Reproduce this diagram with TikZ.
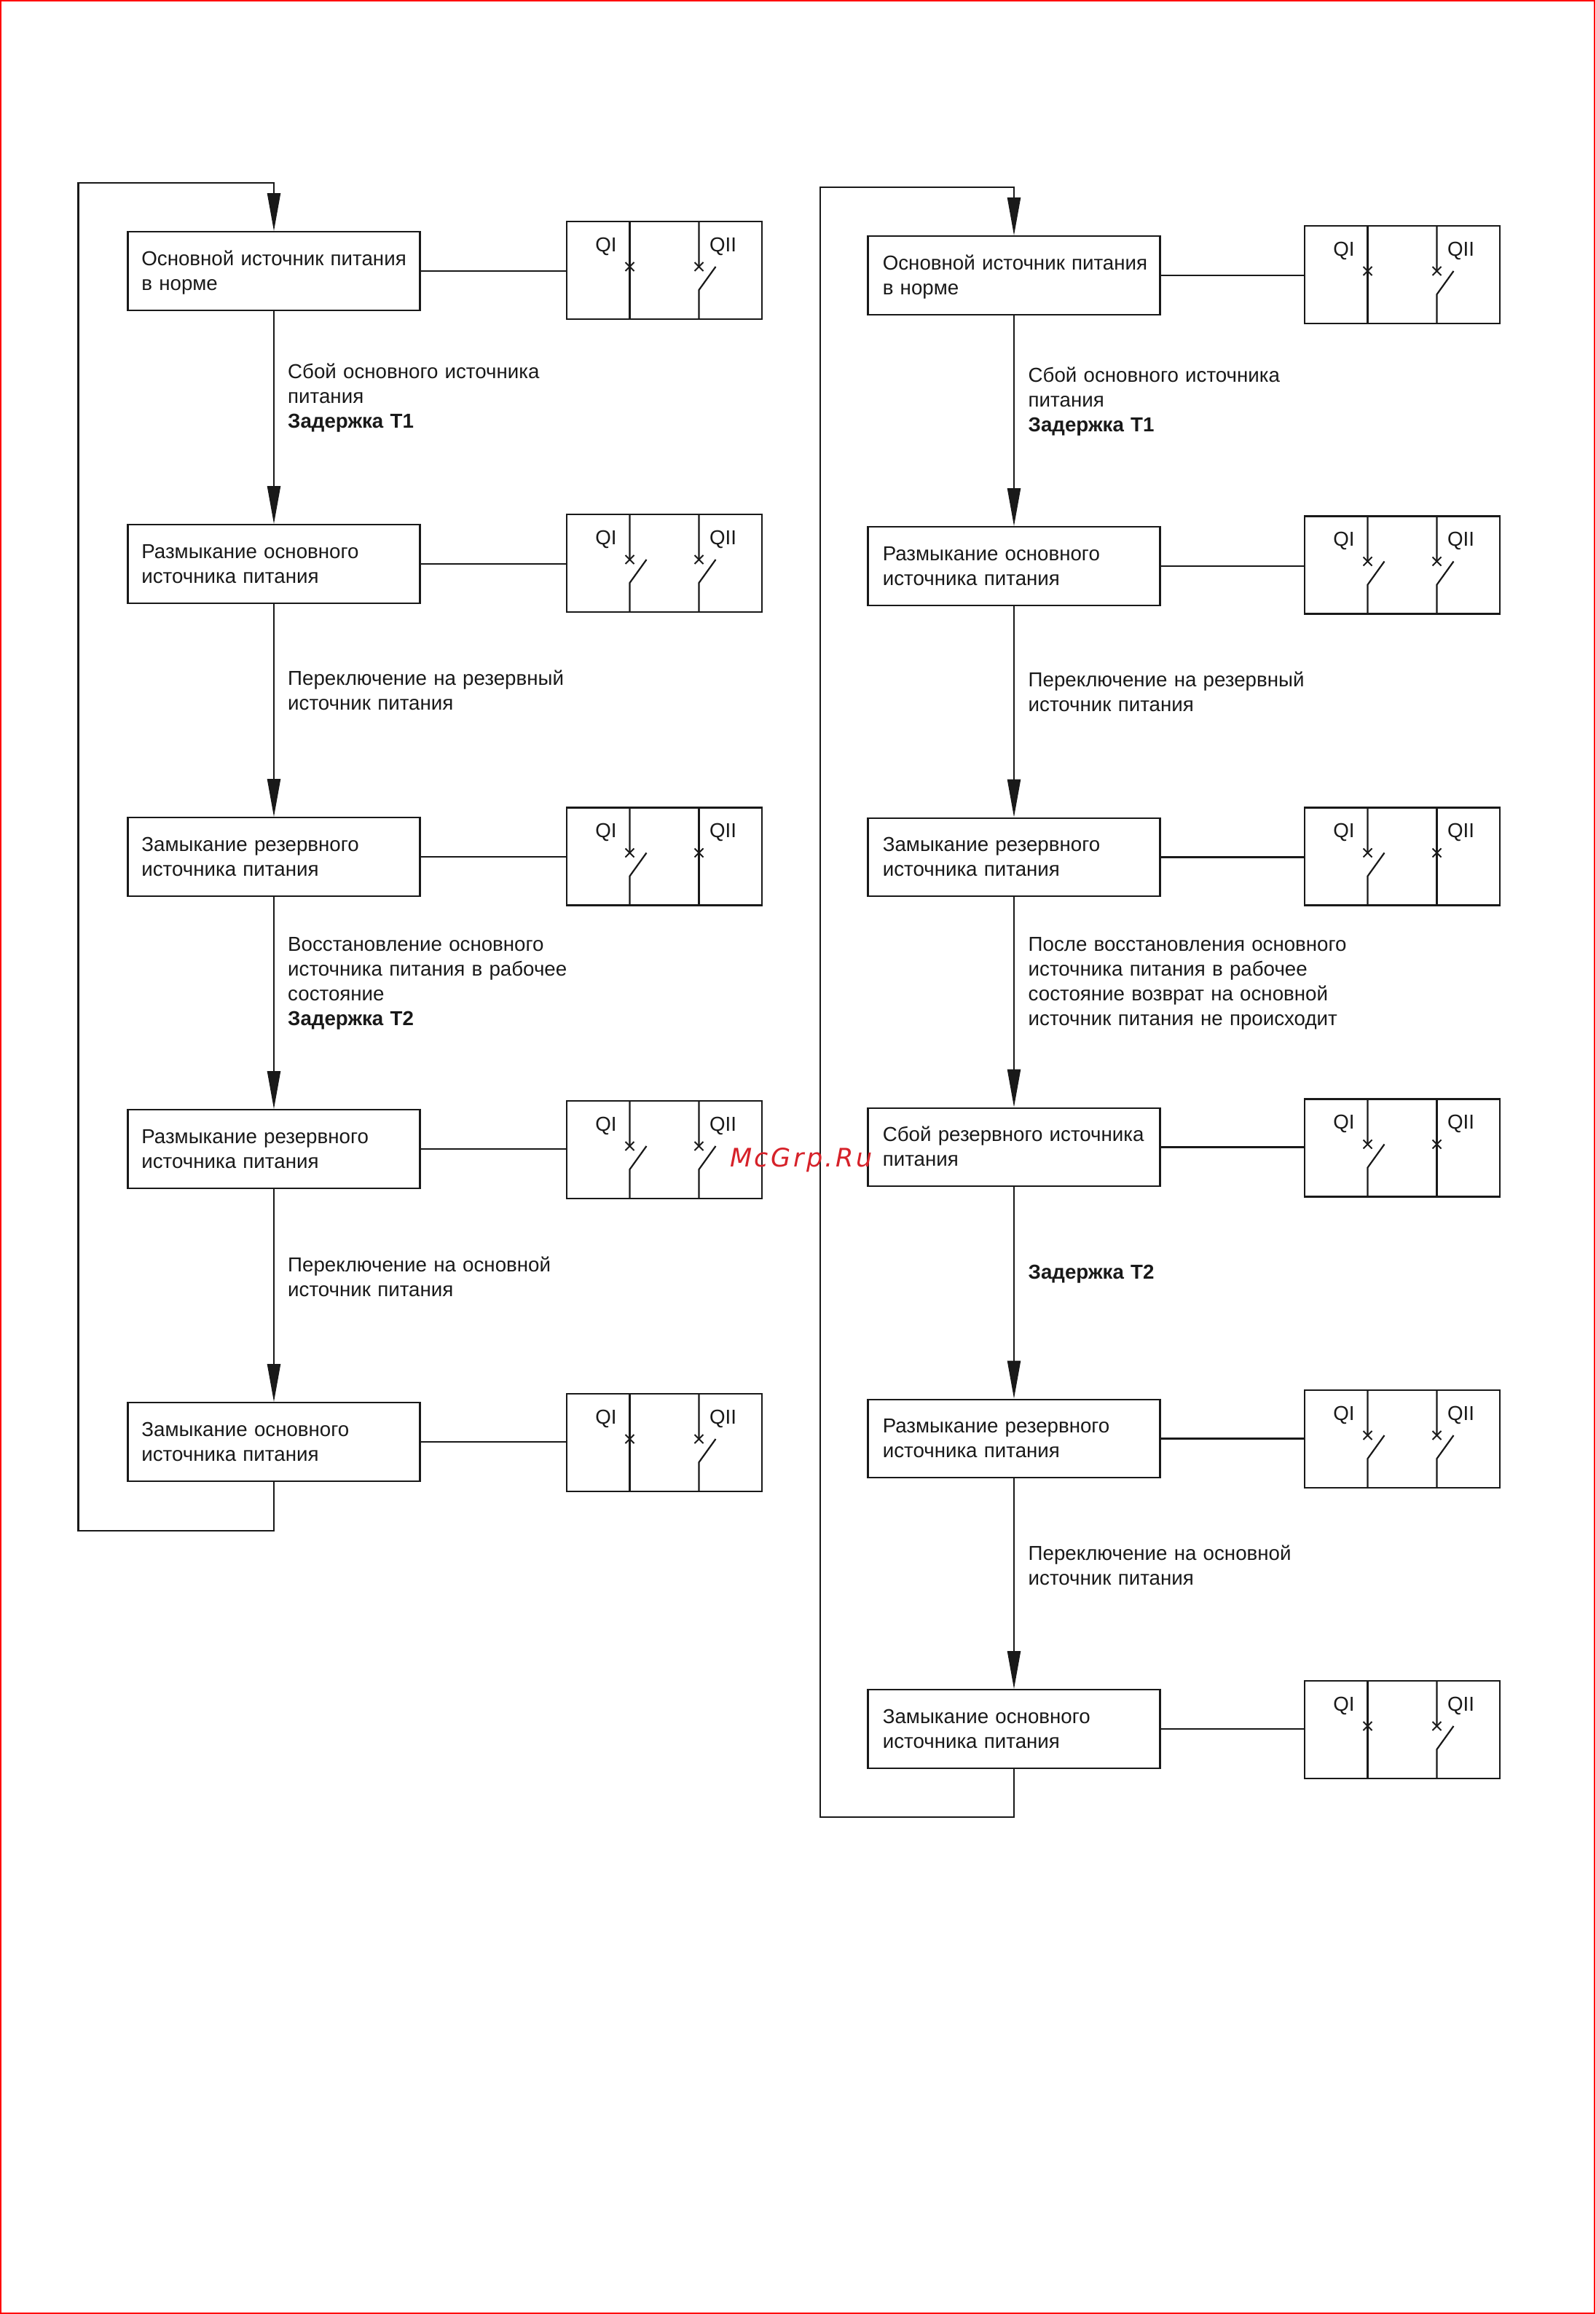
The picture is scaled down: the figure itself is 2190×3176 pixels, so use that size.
\documentclass[tikz,border=0pt]{standalone}
\usepackage{fontspec}
\setmainfont{Liberation Sans}
\newfontfamily\markfont[LetterSpace=10]{DejaVu Sans}
\usetikzlibrary{arrows.meta}

\definecolor{inkline}{gray}{0.1}
\definecolor{markred}{rgb}{0.84,0.13,0.16}
\tikzset{
  closedpole/.pic={
    \draw[inkline, line width=2.2pt] (0,-67) -- (0,67);
    \draw[inkline, line width=2pt] (-6,-11) -- (6,1) (-6,1) -- (6,-11);
  },
  openpole/.pic={
    \draw[inkline, line width=2.2pt] (0,-67) -- (0,-5) (23,-5) -- (0,27) -- (0,67);
    \draw[inkline, line width=2pt] (-6,-11) -- (6,1) (-6,1) -- (6,-11);
  }
}
\newcommand{\breaker}[4]{
  \node[brk] (#1) at (#2) {};
  \node[poletag, xshift=-80pt, yshift=33pt] (#1qi) at (#1) {QI};
  \node[poletag, xshift=80.5pt, yshift=33pt] (#1qii) at (#1) {QII};
  \pic[xshift=-47.5pt] at (#1) {#3};
  \pic[xshift=47.5pt] at (#1) {#4};
}

\begin{document}
\begin{tikzpicture}[x=1pt, y=-1pt,
    every node/.style={font=\fontsize{27.7}{34}\selectfont, text=black!90},
    stepbox/.style={draw=inkline, line width=2.2pt, minimum width=401pt, minimum height=107.5pt,
      inner xsep=16.5pt, inner ysep=0pt, text width=368pt, text height=20pt, text depth=36pt, align=left,
      execute at begin node={\leftskip=#1}},
    brk/.style={draw=inkline, line width=2.2pt, minimum width=268pt, minimum height=134pt, inner sep=0pt},
    poletag/.style={inner sep=0pt},
    note/.style={anchor=base west, inner sep=0pt, text width=560pt, align=left},
    flow/.style={inkline, line width=2.2pt, -{Triangle[length=52pt, width=18pt]}},
    tie/.style={inkline, line width=2.2pt}]
  \useasboundingbox (0,0) rectangle (2190,3176);
  \draw[red, line width=2pt] (1,1) rectangle (2189,3175);

  % left chain
  \node[stepbox=2.4pt] (a1) at (376,372) {Основной источник питания\\в норме};
  \node[stepbox=2.4pt] (a2) at (376,774) {Размыкание основного\\источника питания};
  \node[stepbox=2.4pt] (a3) at (376,1176) {Замыкание резервного\\источника питания};
  \node[stepbox=2.4pt] (a4) at (376,1577) {Размыкание резервного\\источника питания};
  \node[stepbox=2.4pt] (a5) at (376,1979) {Замыкание основного\\источника питания};
  \breaker{ka1}{912,371}{closedpole}{openpole}
  \breaker{ka2}{912,773}{openpole}{openpole}
  \breaker{ka3}{912,1175.5}{openpole}{closedpole}
  \breaker{ka4}{912,1578}{openpole}{openpole}
  \breaker{ka5}{912,1980}{closedpole}{openpole}
  \draw[tie] (a1.east) -- (a1.east -| ka1.west);
  \draw[tie] (a2.east) -- (a2.east -| ka2.west);
  \draw[tie] (a3.east) -- (a3.east -| ka3.west);
  \draw[tie] (a4.east) -- (a4.east -| ka4.west);
  \draw[tie] (a5.east) -- (a5.east -| ka5.west);
  \draw[flow] (a1) -- (a2);
  \draw[flow] (a2) -- (a3);
  \draw[flow] (a3) -- (a4);
  \draw[flow] (a4) -- (a5);
  \coordinate (aSW) at (107.5,2101);
  \coordinate (aNW) at (107.5,251);
  \draw[flow] (a5) -- (a5 |- aSW) -- (aSW) -- (aNW) -- (aNW -| a1) -- (a1);
  \node[note] (na1) at (395,519.5) {Сбой основного источника\\питания\\\textbf{Задержка Т1}};
  \node[note] (na2) at (395,940.5) {Переключение на резервный\\источник питания};
  \node[note] (na3) at (395,1305.5) {Восстановление основного\\источника питания в рабочее\\состояние\\\textbf{Задержка Т2}};
  \node[note] (na4) at (395,1745.5) {Переключение на основной\\источник питания};

  % right chain
  \node[stepbox=3.8pt] (b1) at (1392,378) {Основной источник питания\\в норме};
  \node[stepbox=3.8pt] (b2) at (1392,777) {Размыкание основного\\источника питания};
  \node[stepbox=3.8pt] (b3) at (1392,1176.5) {Замыкание резервного\\источника питания};
  \node[stepbox=3.8pt] (b4) at (1392,1574.5) {Сбой резервного источника\\питания};
  \node[stepbox=3.8pt] (b5) at (1392,1974.5) {Размыкание резервного\\источника питания};
  \node[stepbox=3.8pt] (b6) at (1392,2373) {Замыкание основного\\источника питания};
  \breaker{kb1}{1925,377}{closedpole}{openpole}
  \breaker{kb2}{1925,775.5}{openpole}{openpole}
  \breaker{kb3}{1925,1175.5}{openpole}{closedpole}
  \breaker{kb4}{1925,1575.5}{openpole}{closedpole}
  \breaker{kb5}{1925,1975}{openpole}{openpole}
  \breaker{kb6}{1925,2374}{closedpole}{openpole}
  \draw[tie] (b1.east) -- (b1.east -| kb1.west);
  \draw[tie] (b2.east) -- (b2.east -| kb2.west);
  \draw[tie] (b3.east) -- (b3.east -| kb3.west);
  \draw[tie] (b4.east) -- (b4.east -| kb4.west);
  \draw[tie] (b5.east) -- (b5.east -| kb5.west);
  \draw[tie] (b6.east) -- (b6.east -| kb6.west);
  \draw[flow] (b1) -- (b2);
  \draw[flow] (b2) -- (b3);
  \draw[flow] (b3) -- (b4);
  \draw[flow] (b4) -- (b5);
  \draw[flow] (b5) -- (b6);
  \coordinate (bSW) at (1126,2494);
  \coordinate (bNW) at (1126,257);
  \draw[flow] (b6) -- (b6 |- bSW) -- (bSW) -- (bNW) -- (bNW -| b1) -- (b1);
  \node[note] (nb1) at (1411.5,524) {Сбой основного источника\\питания\\\textbf{Задержка Т1}};
  \node[note] (nb2) at (1411.5,942.5) {Переключение на резервный\\источник питания};
  \node[note] (nb3) at (1411.5,1305) {После восстановления основного\\источника питания в рабочее\\состояние возврат на основной\\источник питания не происходит};
  \node[note] (nb4) at (1411.5,1755.5) {\textbf{Задержка Т2}};
  \node[note] (nb5) at (1411.5,2141.5) {Переключение на основной\\источник питания};

  \node[inner sep=0pt, anchor=base west, text=markred, font=\markfont\itshape\fontsize{35}{40}\selectfont] (mark) at (1002,1601.5) {McGrp.Ru};
\end{tikzpicture}
\end{document}
